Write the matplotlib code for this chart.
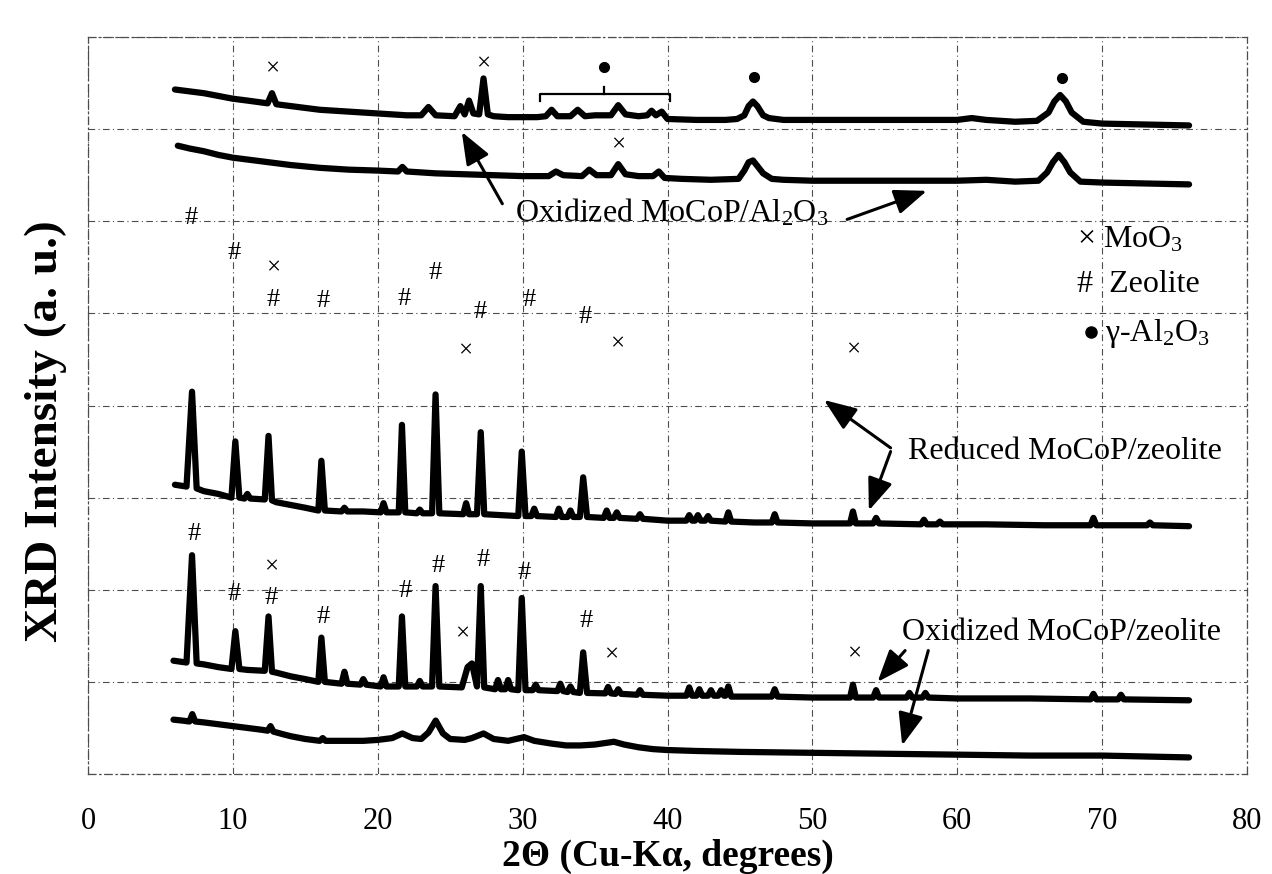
import matplotlib
matplotlib.use('Agg')
import matplotlib.pyplot as plt

plt.rcParams['font.family'] = ['Liberation Serif', 'DejaVu Serif']
plt.rcParams['mathtext.fontset'] = 'custom'
plt.rcParams['mathtext.rm'] = 'Liberation Serif'
plt.rcParams['mathtext.it'] = 'Liberation Serif:italic'
plt.rcParams['mathtext.bf'] = 'Liberation Serif:bold'

# ---------------- data (2theta, offset intensity) ----------------
al_ox1 = [(6.0,7.43),(7,7.41),(8,7.39),(9,7.36),(10,7.33),(11,7.31),(12.4,7.28),(12.7,7.39),(13.0,7.27),
          (14,7.25),(15,7.23),(16,7.21),(17,7.20),(18,7.19),(19,7.18),(20,7.17),(21,7.16),(22,7.15),
          (23.0,7.15),(23.5,7.24),(24.0,7.15),(25.3,7.14),(25.7,7.25),(26.0,7.16),(26.3,7.31),(26.6,7.17),
          (27.0,7.16),(27.3,7.55),(27.6,7.16),(28,7.14),(29,7.13),(30,7.13),(31,7.13),(31.6,7.14),
          (32.0,7.21),(32.4,7.14),(33.3,7.14),(33.8,7.21),(34.3,7.14),(35,7.15),(36.1,7.15),(36.6,7.26),
          (37.1,7.16),(38,7.14),(38.6,7.15),(38.9,7.20),(39.2,7.15),(39.6,7.19),(40.0,7.11),(42,7.10),
          (44,7.10),(44.8,7.11),(45.3,7.15),(45.6,7.25),(45.9,7.30),(46.2,7.25),(46.6,7.15),(47,7.12),
          (48,7.10),(52,7.10),(56,7.10),(60,7.10),(61,7.12),(62,7.10),(64,7.08),(65.5,7.09),(66.3,7.18),
          (66.7,7.30),(67.1,7.37),(67.5,7.30),(67.9,7.18),(68.7,7.08),(70,7.06),(73,7.05),(76,7.04)]

al_ox2 = [(6.2,6.82),(7,6.79),(8,6.76),(9,6.72),(10,6.69),(12,6.65),(14,6.61),(16,6.58),(18,6.56),
          (20,6.55),(21.4,6.54),(21.7,6.59),(22.0,6.54),(24,6.52),(26,6.51),(28,6.50),(30,6.49),
          (31.8,6.49),(32.3,6.54),(32.8,6.50),(34.1,6.49),(34.6,6.56),(35.1,6.50),(36.1,6.50),(36.6,6.62),
          (37.1,6.51),(38,6.49),(39.0,6.49),(39.4,6.54),(39.8,6.47),(41,6.46),(43,6.45),(44.9,6.46),
          (45.3,6.55),(45.6,6.64),(45.9,6.66),(46.2,6.60),(46.6,6.52),(47.2,6.46),(48,6.45),(50,6.44),
          (55,6.44),(60,6.44),(62,6.45),(64,6.43),(65.6,6.44),(66.2,6.53),(66.6,6.64),(67.0,6.72),
          (67.4,6.64),(67.8,6.53),(68.5,6.43),(70,6.42),(73,6.41),(76,6.40)]

zeo_red = [(6.0,3.14),(6.8,3.12),(7.18,4.15),(7.5,3.10),(8,3.07),(9,3.04),(9.9,3.0),(10.17,3.61),(10.45,3.0),
           (10.8,2.99),(11.0,3.04),(11.2,2.99),(12.2,2.98),(12.46,3.67),(12.7,2.97),(13,2.95),(14,2.92),
           (15,2.89),(15.9,2.86),(16.11,3.40),(16.35,2.86),(17.5,2.85),(17.7,2.89),(17.9,2.85),(19,2.85),
           (20.2,2.84),(20.4,2.94),(20.6,2.84),(21.45,2.84),(21.67,3.79),(21.9,2.84),(22.7,2.83),(22.9,2.87),
           (23.1,2.83),(23.75,2.83),(23.99,4.12),(24.25,2.83),(25.9,2.82),(26.1,2.94),(26.3,2.82),(26.85,2.82),
           (27.11,3.71),(27.35,2.82),(28.5,2.81),(29.7,2.80),(29.94,3.50),(30.2,2.80),(30.6,2.80),(30.8,2.88),
           (31.0,2.80),(32.3,2.79),(32.5,2.88),(32.7,2.79),(33.1,2.79),(33.3,2.86),(33.5,2.79),(33.95,2.79),
           (34.18,3.22),(34.45,2.79),(35.6,2.78),(35.8,2.86),(36.0,2.78),(36.3,2.78),(36.5,2.84),(36.7,2.78),
           (37.9,2.77),(38.1,2.82),(38.3,2.77),(40,2.75),(41.3,2.75),(41.5,2.81),(41.7,2.75),(41.9,2.75),
           (42.1,2.81),(42.3,2.75),(42.6,2.75),(42.8,2.80),(43.0,2.75),(44.0,2.74),(44.2,2.84),(44.4,2.74),
           (46,2.73),(47.2,2.73),(47.4,2.82),(47.6,2.73),(50,2.72),(52.6,2.72),(52.8,2.85),(53.0,2.72),
           (54.2,2.72),(54.4,2.78),(54.6,2.72),(57.5,2.71),(57.7,2.76),(57.9,2.71),(58.6,2.71),(58.8,2.74),
           (59.0,2.71),(62,2.71),(66,2.70),(69.2,2.70),(69.4,2.78),(69.6,2.70),(73.1,2.70),(73.3,2.73),
           (73.5,2.70),(76,2.69)]

zeo_ox1 = [(5.9,1.23),(6.8,1.21),(7.18,2.375),(7.5,1.20),(8,1.19),(9,1.16),(9.9,1.14),(10.17,1.55),(10.45,1.14),
           (11,1.13),(12.2,1.12),(12.46,1.71),(12.7,1.11),(13,1.10),(14,1.06),(15,1.03),(15.9,1.00),(16.11,1.48),
           (16.35,1.00),(17.5,0.98),(17.7,1.11),(17.9,0.98),(18.8,0.97),(19.0,1.03),(19.2,0.97),(20.2,0.95),
           (20.4,1.05),(20.6,0.95),(21.45,0.95),(21.67,1.71),(21.9,0.95),(22.7,0.95),(22.9,1.01),(23.1,0.95),
           (23.75,0.95),(23.99,2.04),(24.25,0.95),(25.8,0.94),(26.2,1.16),(26.5,1.20),(26.85,0.95),(27.11,2.04),
           (27.35,0.94),(28.1,0.92),(28.3,1.02),(28.5,0.92),(28.8,0.92),(29.0,1.02),(29.2,0.92),(29.7,0.91),
           (29.94,1.91),(30.2,0.91),(30.7,0.91),(30.9,0.97),(31.1,0.91),(32.4,0.90),(32.6,0.98),(32.8,0.90),
           (33.1,0.89),(33.3,0.95),(33.5,0.89),(33.95,0.88),(34.18,1.32),(34.45,0.88),(35.7,0.875),(35.9,0.945),
           (36.1,0.875),(36.4,0.87),(36.6,0.92),(36.8,0.87),(37.9,0.86),(38.1,0.91),(38.3,0.86),(40,0.85),
           (41.3,0.85),(41.5,0.94),(41.7,0.85),(42.0,0.85),(42.2,0.92),(42.4,0.85),(42.8,0.85),(43.0,0.91),
           (43.2,0.85),(43.5,0.85),(43.7,0.91),(43.9,0.85),(44.0,0.85),(44.2,0.95),(44.4,0.84),(47.2,0.84),
           (47.4,0.92),(47.6,0.84),(50,0.83),(52.6,0.83),(52.8,0.97),(53.0,0.83),(54.2,0.83),(54.4,0.91),
           (54.6,0.83),(56.5,0.83),(56.7,0.88),(56.9,0.83),(57.6,0.83),(57.8,0.88),(58.0,0.83),(60,0.82),
           (65,0.82),(69.2,0.81),(69.4,0.87),(69.6,0.81),(71.1,0.81),(71.3,0.86),(71.5,0.81),(76,0.80)]

zeo_ox2 = [(5.9,0.59),(6.5,0.58),(7.0,0.57),(7.2,0.65),(7.4,0.57),(8,0.56),(9,0.54),(10,0.52),(11,0.50),
           (12,0.48),(12.4,0.47),(12.6,0.52),(12.8,0.46),(13.5,0.43),(14,0.41),(15,0.38),(16,0.36),
           (16.2,0.39),(16.4,0.36),(17,0.36),(18,0.36),(19,0.36),(20,0.37),(21,0.39),(21.7,0.44),
           (22.4,0.39),(23,0.38),(23.5,0.45),(24.0,0.58),(24.5,0.44),(25,0.38),(26,0.37),(26.5,0.39),
           (27.3,0.44),(28,0.38),(29,0.36),(30.1,0.40),(30.8,0.36),(32,0.33),(33,0.31),(34,0.31),
           (35,0.32),(36.3,0.35),(37,0.32),(38,0.29),(39,0.27),(40,0.26),(42,0.25),(45,0.24),(50,0.23),
           (55,0.22),(60,0.21),(65,0.20),(70,0.20),(76,0.18)]

moo3_marks = [(12.7,7.65),(27.3,7.70),(36.6,6.83),(12.75,5.49),(26.0,4.59),(36.5,4.66),(52.8,4.60),
              (12.66,2.24),(25.8,1.52),(36.1,1.29),(52.9,1.30)]
zeolite_marks = [(7.15,6.03),(10.1,5.65),(12.75,5.14),(16.2,5.13),(21.8,5.16),(23.96,5.44),(27.1,5.02),
                 (30.45,5.14),(34.3,4.96),(7.3,2.61),(10.08,1.95),(12.66,1.91),(16.2,1.70),(21.9,1.99),
                 (24.2,2.26),(27.3,2.32),(30.1,2.18),(34.4,1.66)]
alumina_marks = [(35.6,7.67),(46.0,7.57),(67.2,7.56)]

x_ticks = [0, 10, 20, 30, 40, 50, 60, 70, 80]
y_grid = [0, 1, 2, 3, 4, 5, 6, 7, 8]

labels = [(r'Oxidized MoCoP/Al$_2$O$_3$', 40.3, 6.09),
          ('Reduced MoCoP/zeolite', 67.4, 3.50),
          ('Oxidized MoCoP/zeolite', 67.2, 1.54)]
arrows = [((28.6, 6.19), (25.8, 6.97)), ((52.4, 6.02), (57.9, 6.33)),
          ((55.4, 3.54), (50.8, 4.06)), ((55.4, 3.50), (53.9, 2.86)),
          ((56.4, 1.34), (54.5, 1.00)), ((58.0, 1.34), (56.2, 0.31))]

# ---------------- figure ----------------
fig = plt.figure(figsize=(12.72, 8.74), dpi=100)
ax = fig.add_axes([88/1272, 1-774/874, (1247-88)/1272, (774-37)/874])
ax.set_xlim(0, 80)
ax.set_ylim(0, 8)

for pts in (al_ox1, al_ox2, zeo_red, zeo_ox1, zeo_ox2):
    xs = [p[0] for p in pts]
    ys = [p[1] for p in pts]
    ax.plot(xs, ys, color='black', lw=4.5, solid_joinstyle='round', solid_capstyle='round', zorder=3)

for x, y in moo3_marks:
    ax.text(x, y, '×', fontsize=18, ha='center', va='center', zorder=4)
for x, y in zeolite_marks:
    ax.text(x, y, '#', fontsize=19, ha='center', va='center', zorder=4)
ax.plot([p[0] for p in alumina_marks], [p[1] for p in alumina_marks], 'o', color='black', ms=7, zorder=4)

# bracket for gamma-Al2O3 group
ax.plot([31.2, 31.2, 40.2, 40.2], [7.30, 7.38, 7.38, 7.30], color='black', lw=1.6, zorder=4)
ax.plot([35.6, 35.6], [7.38, 7.46], color='black', lw=1.6, zorder=4)

for txt, x, y in labels:
    ax.text(x, y, txt, fontsize=23, ha='center', va='center', zorder=5)
for tail, head in arrows:
    ax.annotate('', xy=head, xytext=tail,
                arrowprops=dict(arrowstyle='-|>,head_length=0.9,head_width=0.35', lw=2.2,
                                color='black', mutation_scale=22, shrinkA=0, shrinkB=0), zorder=5)

# legend
ax.text(68.3, 5.80, r'× MoO$_3$', fontsize=23, ha='left', va='center')
ax.text(68.3, 5.31, r'#  Zeolite', fontsize=23, ha='left', va='center')
ax.plot([69.2], [4.80], 'o', color='black', ms=8)
ax.text(70.2, 4.78, r'γ-Al$_2$O$_3$', fontsize=23, ha='left', va='center')

# axes styling
ax.set_xticks(x_ticks)
ax.set_xticklabels([str(t) for t in x_ticks], fontsize=22)
ax.set_yticks(y_grid)
ax.set_yticklabels([])
ax.tick_params(axis='both', length=0)
ax.tick_params(axis='x', pad=24)
ax.grid(True, color='0.3', lw=0.8, linestyle=(0, (6, 3, 1, 3)))
for s in ax.spines.values():
    s.set_linestyle((0, (6, 3, 1, 3)))
    s.set_color('0.3')
    s.set_linewidth(0.9)

ax.set_xlabel('2Θ (Cu-Kα, degrees)', fontsize=27, fontweight='bold')
ax.xaxis.label.set_va('center')
ax.xaxis.set_label_coords(0.5, (774-856)/737)
ax.set_ylabel('XRD Intensity (a. u.)', fontsize=34, fontweight='bold')
ax.yaxis.label.set_va('center')
ax.yaxis.set_label_coords((46-88)/1159, 0.465)

fig.savefig('out.png', dpi=100)
